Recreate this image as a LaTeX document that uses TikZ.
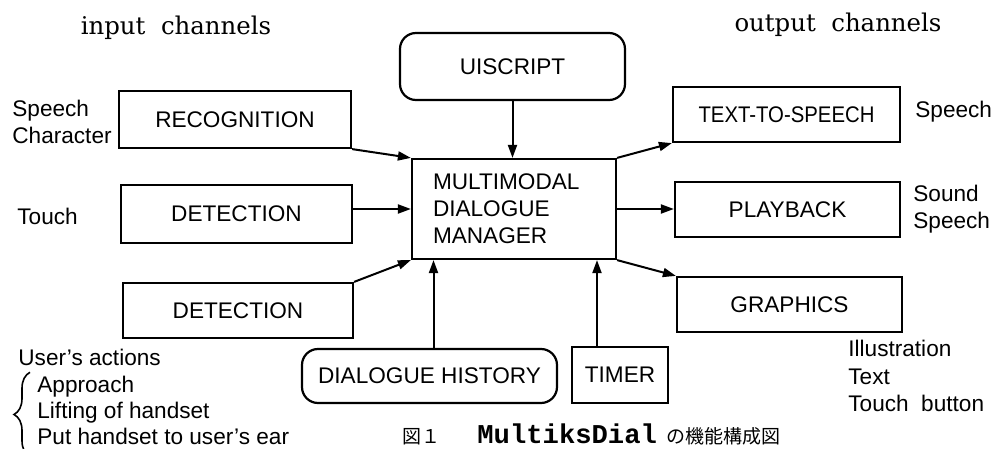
\documentclass[tikz,border=0pt]{standalone}
\usepackage{fontspec}
\setmainfont{Liberation Sans}
\newfontfamily\chanfont{DejaVu Serif}
\newfontfamily\cjkfont{Noto Sans CJK JP}
\newfontfamily\dotfont{Liberation Mono}
\usetikzlibrary{shapes,arrows.meta,positioning,calc,decorations.pathreplacing}

\begin{document}
\begin{tikzpicture}[
            x=0.5pt, y=-0.5pt,
            every node/.style={font=\fontsize{11.3}{13.5}\selectfont},
            block/.style={rectangle, draw, line width=1.1pt, inner sep=0pt, align=center},
            rblock/.style={block, rounded corners=8pt},
            sidetext/.style={inner sep=0pt, align=left},
            heading/.style={inner sep=0pt, font=\chanfont\fontsize{12.2}{14}\selectfont},
            arrow/.style={-{Triangle[length=6.5pt,width=4.5pt]}, line width=1pt}
        ]
            \useasboundingbox (0,0) rectangle (997,449);

            % Nodes
            \node[rblock, minimum width=112.5pt, minimum height=33.5pt] (uiscript) at (512.5,66.5) {UISCRIPT};
            \node[block, minimum width=116pt, minimum height=28.5pt] (recog) at (235,119.5) {RECOGNITION};
            \node[block, minimum width=115.5pt, minimum height=29pt] (touchdet) at (236.5,214) {DETECTION};
            \node[block, minimum width=115pt, minimum height=27.5pt] (actdet) at (238,310.5) {DETECTION};
            \node[block, text width=81pt, inner xsep=10.5pt, minimum height=50pt, align=left] (mdm) at (514,209) {MULTIMODAL\\DIALOGUE\\MANAGER};
            \node[block, minimum width=113.5pt, minimum height=27.5pt] (tts) at (786.5,114.5) {\scalebox{0.9}[1]{TEXT-TO-SPEECH}};
            \node[block, minimum width=112.5pt, minimum height=27.5pt] (play) at (787.5,209.5) {PLAYBACK};
            \node[block, minimum width=112.5pt, minimum height=27.5pt] (graph) at (789.5,304.5) {GRAPHICS};
            \node[rblock, minimum width=127.5pt, minimum height=27pt] (hist) at (429.5,376) {DIALOGUE HISTORY};
            \node[block, minimum width=48pt, minimum height=28pt] (timer) at (620,375) {TIMER};

            % Channel headings and side texts
            \node[heading, anchor=base] (inhead) at (176,35) {input~~channels};
            \node[heading, anchor=base] (outhead) at (838,32) {output~~channels};
            \node[sidetext, anchor=west] (recogin) at (12,122) {Speech\\Character};
            \node[sidetext, anchor=base west] (touchin) at (17,225) {Touch};
            \node[sidetext, anchor=base west] (ttsout) at (915,118) {Speech};
            \node[sidetext, anchor=west] (playout) at (913,209) {Sound\\Speech};
            \node[sidetext, anchor=west, font=\fontsize{11.3}{13.75}\selectfont] (graphout) at (848,376) {Illustration\\Text\\Touch~~button};
            \node[sidetext, anchor=base west] (acthead) at (18,365) {User's actions};
            \node[sidetext, anchor=west, font=\fontsize{11.3}{13}\selectfont] (acts) at (37,410) {Approach\\Lifting of handset\\Put handset to user's ear};
            \draw[decorate, decoration={brace, amplitude=8pt}, line width=0.8pt] ([shift={(-3.5pt,-6pt)}]acts.south west) -- ([shift={(-3.5pt,1.5pt)}]acts.north west);

            % Caption
            \node[anchor=base west, inner sep=0pt] (caption) at (402,443) {\cjkfont\fontsize{9.5}{11}\selectfont 図１\hspace{18.5pt}{\dotfont\bfseries\fontsize{13.6}{14}\selectfont MultiksDial}\hspace{5pt}の機能構成図};

            % Arrows
            \draw[arrow] (uiscript.south) -- (uiscript.south |- mdm.north);
            \draw[arrow] (recog.south east) -- (mdm.north west);
            \draw[arrow] (touchdet.east |- mdm.west) -- (mdm.west);
            \draw[arrow] (actdet.north east) -- (mdm.south west);
            \draw[arrow] ([xshift=2pt]hist.north) -- ([xshift=2pt]hist.north |- mdm.south);
            \draw[arrow] ([xshift=-11.5pt]timer.north) -- ([xshift=-11.5pt]timer.north |- mdm.south);
            \draw[arrow] (mdm.north east) -- (tts.south west);
            \draw[arrow] (mdm.east) -- (mdm.east -| play.west);
            \draw[arrow] (mdm.south east) -- (graph.north west);
        \end{tikzpicture}
\end{document}
